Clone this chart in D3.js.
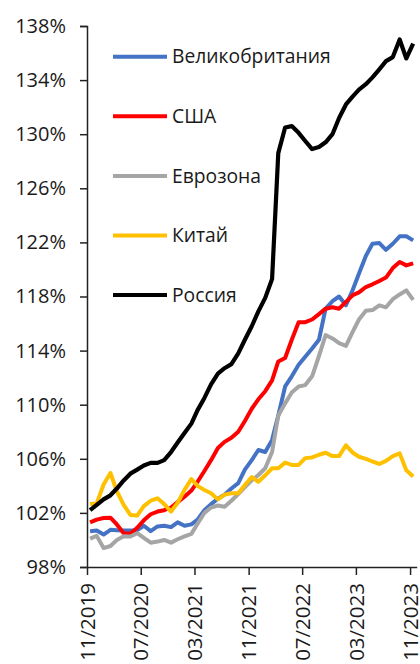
<!DOCTYPE html>
<html><head><meta charset="utf-8">
<script src="https://cdn.jsdelivr.net/npm/d3@7"></script>
<style>
html,body{margin:0;padding:0;background:#fff;}
svg{display:block;}
text{font-family:"Open Sans","Noto Sans",sans-serif;fill:#1a1a1a;}
</style></head>
<body><div id="chart"></div>
<script>
// Categories: monthly observations Nov 2019 – Nov 2023
const startMonth = new Date(2019, 10, 1);
const endMonth = new Date(2023, 10, 1);

const seriesNames = ["Великобритания", "США", "Еврозона", "Китай", "Россия"];
const seriesColors = ["#4472C4", "#FF0000", "#A5A5A5", "#FFC000", "#000000"];

const ukValues = [100.65,100.7,100.4,100.75,100.72,100.7,100.7,100.72,101.05,100.65,101.0,101.05,100.95,101.3,101.05,101.15,101.5,102.2,102.65,103.05,103.35,103.8,104.2,105.2,105.9,106.65,106.5,107.4,109.2,111.35,112.1,112.95,113.55,114.15,114.8,117.1,117.65,118.0,117.35,118.5,119.7,121.0,121.9,121.95,121.45,121.9,122.45,122.45,122.15];
const usaValues = [101.3,101.5,101.62,101.65,101.15,100.5,100.45,100.9,101.45,101.9,102.1,102.2,102.4,102.8,103.2,103.65,104.3,105.1,105.9,106.8,107.25,107.55,108.0,108.8,109.7,110.4,111.0,111.8,113.2,113.45,114.8,116.1,116.1,116.3,116.7,117.1,117.2,117.1,117.6,118.1,118.3,118.7,118.9,119.15,119.4,120.1,120.55,120.3,120.45];
const euroValues = [100.1,100.3,99.4,99.55,100.0,100.28,100.25,100.5,100.15,99.8,99.88,100.0,99.8,100.05,100.27,100.45,101.2,102.0,102.4,102.55,102.45,102.9,103.4,103.9,104.4,104.8,105.3,106.5,109.2,110.1,110.9,111.35,111.45,112.1,113.6,115.15,114.9,114.55,114.35,115.4,116.3,116.95,117.0,117.35,117.2,117.8,118.15,118.45,117.75];
const chinaValues = [102.65,102.7,104.1,104.95,103.6,102.6,101.85,101.8,102.5,102.9,103.08,102.65,102.1,102.75,103.7,104.5,104.0,103.7,103.45,103.0,103.35,103.45,103.45,104.06,104.65,104.3,104.78,105.3,105.3,105.72,105.55,105.55,106.05,106.1,106.3,106.45,106.2,106.2,107.0,106.45,106.15,106.0,105.8,105.62,105.85,106.2,106.4,105.15,104.7];
const russiaValues = [102.2,102.6,103.0,103.3,103.8,104.4,104.9,105.2,105.5,105.7,105.7,105.9,106.5,107.2,107.9,108.6,109.6,110.5,111.5,112.3,112.7,113.0,113.8,114.8,115.8,116.9,117.9,119.3,128.6,130.5,130.6,130.1,129.5,128.9,129.05,129.4,130.0,131.2,132.2,132.8,133.3,133.7,134.2,134.8,135.4,135.7,137.0,135.6,136.7];

const yTicks = [98, 102, 106, 110, 114, 118, 122, 126, 130, 134, 138];
const xTickLabels = ["11/2019", "07/2020", "03/2021", "11/2021", "07/2022", "03/2023", "11/2023"];

const W = 420, H = 664;
const svg = d3.select("#chart").append("svg").attr("width", W).attr("height", H);

const months = d3.timeMonth.range(startMonth, d3.timeMonth.offset(endMonth, 1));
const parseTick = d3.timeParse("%m/%Y");
const fmtTick = d3.timeFormat("%m/%Y");

const x = d3.scaleTime()
  .domain([startMonth, d3.timeMonth.offset(endMonth, 1)])
  .range([87, 416.7]);
const y = d3.scaleLinear().domain([98, 138]).range([567, 26]);

const allValues = [ukValues, usaValues, euroValues, chinaValues, russiaValues];
const series = seriesNames.map((name, k) => ({
  name, color: seriesColors[k],
  points: allValues[k].map((v, i) => ({date: d3.timeDay.offset(months[i], 14), v}))
}));

// Y axis
const yAxis = svg.append("g").attr("transform", "translate(87,0)")
  .call(d3.axisLeft(y).tickValues(yTicks).tickSize(7).tickPadding(14).tickFormat(d => d + "%"));
yAxis.select(".domain").attr("stroke", "#222").attr("stroke-width", 1.5);
yAxis.selectAll(".tick line").attr("stroke", "#222").attr("stroke-width", 1.5);
yAxis.selectAll(".tick text").attr("font-size", 20).attr("fill", "#1a1a1a")
  .style("font-family", '"Open Sans","Noto Sans",sans-serif');

// X axis
const xAxis = svg.append("g").attr("transform", "translate(0,567)")
  .call(d3.axisBottom(x).tickValues(xTickLabels.map(parseTick)).tickSize(8).tickSizeOuter(0).tickFormat(fmtTick));
xAxis.select(".domain").attr("stroke", "#222").attr("stroke-width", 1.5);
xAxis.selectAll(".tick line").attr("stroke", "#222").attr("stroke-width", 1.5);
xAxis.selectAll(".tick text")
  .attr("font-size", 20.5).attr("fill", "#1a1a1a")
  .style("font-family", '"Open Sans","Noto Sans",sans-serif')
  .attr("text-anchor", "end")
  .attr("transform", "rotate(-90)")
  .attr("x", -16).attr("y", 0).attr("dy", "0.35em");

// Lines
const line = d3.line().x(d => x(d.date)).y(d => y(d.v));
svg.append("g").selectAll("path").data(series).join("path")
  .attr("d", d => line(d.points))
  .attr("fill", "none")
  .attr("stroke", d => d.color)
  .attr("stroke-width", d => d.name === "Россия" ? 4.2 : 4)
  .attr("stroke-linejoin", "round")
  .attr("stroke-linecap", "butt");

// Legend
const legend = svg.append("g");
const legRows = legend.selectAll("g").data(series).join("g")
  .attr("transform", (d, i) => `translate(113,${56.7 + i * 59.6})`);
legRows.append("line").attr("x1", 0).attr("x2", 54).attr("y1", 0).attr("y2", 0)
  .attr("stroke", d => d.color).attr("stroke-width", 4);
legRows.append("text").attr("x", 59).attr("y", 0).attr("dy", "0.35em")
  .attr("font-size", 19.3).text(d => d.name);
</script></body></html>
